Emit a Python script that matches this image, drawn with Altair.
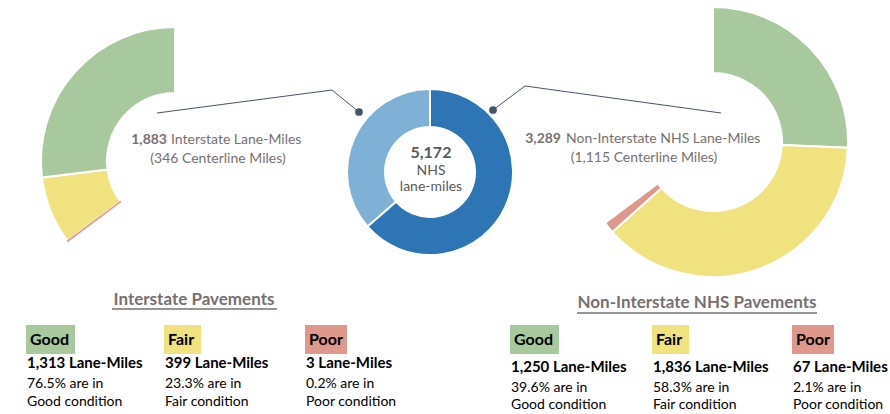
import math
import altair as alt
import pandas as pd

# ---------------- data ----------------
conditions = ["Good", "Fair", "Poor"]
cond_colors = ["#A8C89E", "#F0E27F", "#DE998C"]

interstate_lane_miles = [1313, 399, 3]
interstate_pct = ["76.5%", "23.3%", "0.2%"]
noninterstate_lane_miles = [1250, 1836, 67]
noninterstate_pct = ["39.6%", "58.3%", "2.1%"]

nhs_groups = ["Non-Interstate NHS", "Interstate"]
nhs_lane_miles = [3289, 1883]
nhs_colors = ["#2E75B6", "#7FB0D6"]
centerline_miles = [1115, 346]

FONT = "Lato"
GRAY = "#767171"
DARK = "#44546A"

theta_scale = alt.Scale(domain=[0, 1], range=[0, 2 * math.pi])


def ring(labels, values, colors, visible):
    total = sum(values)
    rows, cum = [], 0
    for lab, v, c, vis in zip(labels, values, colors, visible):
        rows.append(dict(label=lab, value=v, start=cum / total,
                         end=(cum + v) / total, color=c, vis=vis))
        cum += v
    df = pd.DataFrame(rows)
    return df[df["vis"]].reset_index(drop=True)


# left ring: whole rated NHS, non-interstate part hidden, interstate ends at top
left_df = ring(["hidden"] + conditions[::-1],
               [sum(noninterstate_lane_miles)] + interstate_lane_miles[::-1],
               ["#ffffff"] + cond_colors[::-1],
               [False, True, True, True])
# right ring: non-interstate from top clockwise, interstate part hidden
right_df = ring(conditions + ["hidden"],
                noninterstate_lane_miles + [sum(interstate_lane_miles)],
                cond_colors + ["#ffffff"],
                [True, True, True, False])
center_df = ring(nhs_groups, nhs_lane_miles, nhs_colors, [True, True])

dummy = pd.DataFrame({"a": [0]})


def arcs(df, cx, cy, r_in, r_out, stroke="white", sw=2.0, self_stroke=False):
    m = alt.Chart(df).mark_arc(innerRadius=r_in, outerRadius=r_out,
                               stroke=stroke, strokeWidth=sw)
    enc = dict(
        theta=alt.Theta("start:Q", scale=theta_scale, stack=False),
        theta2="end:Q",
        color=alt.Color("color:N", scale=None),
        x=alt.value(cx), y=alt.value(cy),
    )
    if self_stroke:
        m = alt.Chart(df).mark_arc(innerRadius=r_in, outerRadius=r_out, strokeWidth=sw)
        enc["stroke"] = alt.Stroke("color:N", scale=None)
    return m.encode(**enc)


def txt(s, x, y, size=15, weight="normal", color="#000000", align="left",
        baseline="middle"):
    return alt.Chart(dummy).mark_text(
        font=FONT, fontSize=size, fontWeight=weight, color=color,
        align=align, baseline=baseline
    ).encode(x=alt.value(x), y=alt.value(y), text=alt.value(s))


def rule(x1, y1, x2, y2, color=DARK, sw=1.0):
    return alt.Chart(dummy).mark_rule(color=color, strokeWidth=sw).encode(
        x=alt.value(x1), y=alt.value(y1), x2=alt.value(x2), y2=alt.value(y2))


def rect(x1, y1, x2, y2, color):
    return alt.Chart(dummy).mark_rect(color=color).encode(
        x=alt.value(x1), y=alt.value(y1), x2=alt.value(x2), y2=alt.value(y2))


def dot(x, y):
    return alt.Chart(dummy).mark_circle(color=DARK, opacity=1, size=60).encode(
        x=alt.value(x), y=alt.value(y))


layers = []
# rings
layers.append(arcs(left_df, 175, 161, 68, 134))
layers.append(arcs(left_df[left_df["label"] == "Poor"], 175, 161, 68, 134,
                   sw=1.2, self_stroke=True))
layers.append(arcs(right_df, 713, 142, 69, 135))
layers.append(arcs(center_df, 430, 172, 45, 83))

# leader lines
layers += [rule(157, 113, 332, 90), rule(332, 90, 359, 112), dot(359, 112)]
layers += [rule(721, 113, 525, 86), rule(525, 86, 493, 110), dot(493, 110)]

# center text
layers.append(txt(f"{sum(nhs_lane_miles):,}", 431, 153, 16, "bold", "#595959", "center"))
layers.append(txt("NHS", 431, 171, 14, "normal", "#595959", "center"))
layers.append(txt("lane-miles", 431, 187, 14, "normal", "#595959", "center"))

# side labels
layers.append(txt(f"{nhs_lane_miles[1]:,}", 167, 140, 14, "bold", GRAY, "right"))
layers.append(txt("Interstate Lane-Miles", 171, 140, 14, "normal", GRAY, "left"))
layers.append(txt(f"({centerline_miles[1]:,} Centerline Miles)", 218, 159, 14, "normal", GRAY, "center"))

layers.append(txt(f"{nhs_lane_miles[0]:,}", 561, 139, 14, "bold", GRAY, "right"))
layers.append(txt("Non-Interstate NHS Lane-Miles", 566, 139, 14, "normal", GRAY, "left"))
layers.append(txt(f"({centerline_miles[0]:,} Centerline Miles)", 644, 158, 14, "normal", GRAY, "center"))

# section titles with underline
layers.append(txt("Interstate Pavements", 194, 300, 17, "bold", GRAY, "center"))
layers.append(rule(112, 309, 277, 309, GRAY, 1.5))
layers.append(txt("Non-Interstate NHS Pavements", 697, 303, 17, "bold", GRAY, "center"))
layers.append(rule(577, 313, 817, 313, GRAY, 1.5))


def legend_block(x0s, xw, top, lm, pct, line_ys):
    out = []
    for i, cond in enumerate(conditions):
        x0 = x0s[i]
        out.append(rect(x0, top, x0 + xw[i], top + 29, cond_colors[i]))
        out.append(txt(cond, x0 + 4, top + 14.5, 16, "bold", "#000000", "left"))
        out.append(txt(f"{lm[i]:,} Lane-Miles", x0 + 1, line_ys[0], 15, "bold", "#000000"))
        out.append(txt(f"{pct[i]} are in", x0 + 1, line_ys[1], 14, "normal", "#000000"))
        out.append(txt(f"{cond} condition", x0 + 1, line_ys[2], 14, "normal", "#000000"))
    return out


layers += legend_block([26, 164, 305], [49, 37, 42], 325,
                       interstate_lane_miles, interstate_pct, [363, 384, 402])
layers += legend_block([510, 652, 792], [49, 37, 42], 325,
                       noninterstate_lane_miles, noninterstate_pct, [367, 388, 405])

chart = alt.layer(*layers).properties(
    width=890, height=414, padding=0, autosize=alt.AutoSizeParams(type="none")
).configure_view(stroke=None)

chart.save("out.html", embed_options={"renderer": "svg", "actions": False})
